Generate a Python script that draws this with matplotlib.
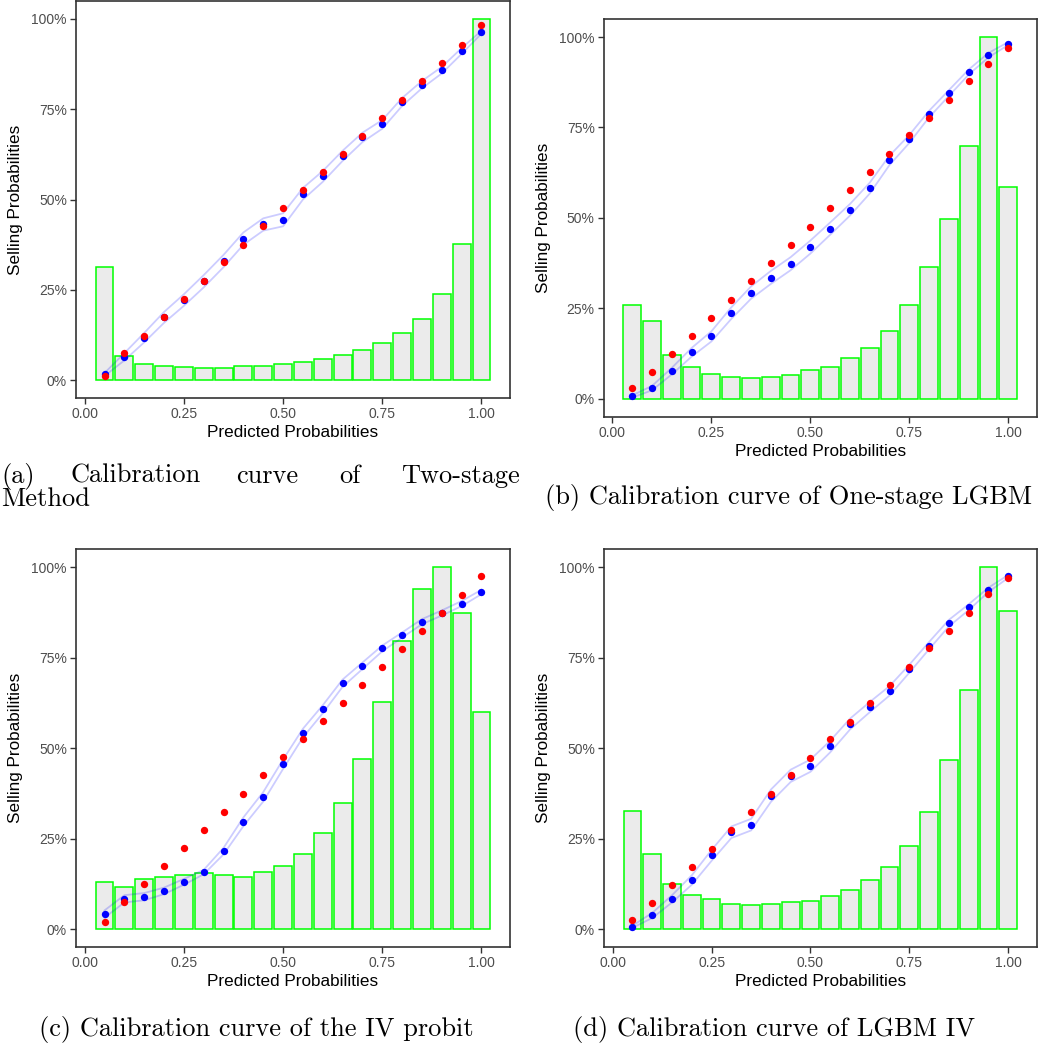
import matplotlib.pyplot as plt
from matplotlib.ticker import FuncFormatter

# bin centres of the predicted probabilities
bins = [0.05, 0.10, 0.15, 0.20, 0.25, 0.30, 0.35, 0.40, 0.45, 0.50,
        0.55, 0.60, 0.65, 0.70, 0.75, 0.80, 0.85, 0.90, 0.95, 1.00]

# (a) two-stage method
a_hist = [31.2, 6.8, 4.6, 3.9, 3.6, 3.3, 3.5, 3.8, 4.0, 4.5,
          5.1, 5.8, 6.9, 8.4, 10.2, 13.0, 16.9, 23.9, 37.7, 100.0]
a_obs = [1.6, 6.5, 11.8, 17.4, 22.2, 27.4, 33.0, 39.2, 43.1, 44.4,
         51.6, 56.4, 62.1, 67.2, 70.8, 77.0, 81.8, 85.8, 91.1, 96.3]
a_pred = [1.3, 7.4, 12.3, 17.4, 22.4, 27.4, 32.6, 37.5, 42.6, 47.6,
          52.6, 57.6, 62.6, 67.6, 72.6, 77.6, 82.7, 87.7, 92.8, 98.3]
a_ci = [0.4, 1.0, 1.3, 1.5, 1.6, 1.7, 1.7, 1.7, 1.7, 1.8,
        1.6, 1.5, 1.4, 1.3, 1.2, 1.1, 1.0, 0.9, 0.8, 0.4]

# (b) one-stage LGBM
b_hist = [25.8, 21.4, 12.1, 8.7, 6.9, 6.0, 5.7, 6.0, 6.5, 7.9,
          8.8, 11.1, 14.0, 18.7, 25.9, 36.5, 49.8, 69.9, 100.0, 58.4]
b_obs = [0.6, 2.9, 7.6, 12.8, 17.2, 23.6, 29.3, 33.5, 37.3, 41.9,
         47.0, 52.2, 58.2, 65.9, 71.8, 78.7, 84.5, 90.3, 95.0, 98.2]
b_pred = [2.9, 7.3, 12.3, 17.4, 22.4, 27.4, 32.5, 37.4, 42.6, 47.6,
          52.6, 57.6, 62.6, 67.7, 72.8, 77.7, 82.7, 87.8, 92.6, 97.0]
b_ci = [0.3, 0.6, 0.9, 1.2, 1.4, 1.6, 1.7, 1.8, 1.8, 1.8,
        1.7, 1.6, 1.5, 1.3, 1.1, 0.9, 0.8, 0.7, 0.6, 0.4]

# (c) IV probit
c_hist = [13.0, 11.6, 13.8, 14.5, 15.0, 15.6, 14.9, 14.5, 15.9, 17.6,
          20.8, 26.5, 35.0, 47.0, 62.9, 79.7, 93.9, 100.0, 87.4, 60.1]
c_obs = [4.2, 8.4, 9.0, 10.6, 13.1, 15.8, 21.6, 29.7, 36.6, 45.6,
         54.2, 60.8, 68.0, 72.8, 77.6, 81.3, 85.0, 87.4, 90.0, 93.2]
c_pred = [2.1, 7.4, 12.5, 17.5, 22.4, 27.4, 32.4, 37.4, 42.5, 47.5,
          52.5, 57.5, 62.5, 67.6, 72.5, 77.5, 82.5, 87.5, 92.4, 97.5]
c_ci = [1.0, 1.0, 1.0, 0.9, 0.8, 0.6, 0.9, 1.2, 1.3, 1.3,
        1.2, 1.1, 1.0, 0.9, 0.8, 0.7, 0.7, 0.7, 0.7, 0.6]

# (d) LGBM IV
d_hist = [32.7, 20.7, 12.6, 9.4, 8.4, 7.1, 6.8, 6.9, 7.4, 7.9,
          9.3, 10.9, 13.5, 17.2, 23.0, 32.4, 46.7, 66.2, 100.0, 88.0]
d_obs = [0.7, 3.8, 8.4, 13.6, 20.4, 26.8, 28.9, 36.9, 42.4, 45.2,
         50.5, 56.7, 61.4, 65.9, 72.0, 78.4, 84.6, 89.0, 93.8, 97.5]
d_pred = [2.6, 7.2, 12.3, 17.3, 22.3, 27.4, 32.4, 37.4, 42.5, 47.4,
          52.5, 57.4, 62.5, 67.6, 72.6, 77.6, 82.5, 87.5, 92.6, 97.0]
d_ci = [0.3, 0.7, 1.0, 1.3, 1.5, 1.6, 1.6, 1.7, 1.7, 1.7,
        1.6, 1.5, 1.4, 1.3, 1.1, 1.0, 0.9, 0.8, 0.6, 0.4]

W, H = 1051, 1053


def px_axes(fig, left, top, right, bottom):
    # axes box given in pixels measured from the top-left corner
    return fig.add_axes([left / W, 1 - bottom / H, (right - left) / W, (bottom - top) / H])


def calib_panel(ax, hist, obs, pred, ci):
    ax.bar(bins, hist, width=0.045, color='#EBEBEB', edgecolor='#00FF00',
           linewidth=1.1, zorder=1)
    lower = [o - c for o, c in zip(obs, ci)]
    upper = [o + c for o, c in zip(obs, ci)]
    ax.plot(bins, lower, color='blue', alpha=0.2, linewidth=1.3, zorder=2)
    ax.plot(bins, upper, color='blue', alpha=0.2, linewidth=1.3, zorder=2)
    ax.scatter(bins, obs, s=28, color='blue', linewidths=0, zorder=3)
    ax.scatter(bins, pred, s=28, color='red', linewidths=0, zorder=4)

    ax.set_xlim(-0.022, 1.072)
    ax.set_ylim(-5, 105)
    ax.set_xticks([0, 0.25, 0.5, 0.75, 1.0])
    ax.set_yticks([0, 25, 50, 75, 100])
    ax.xaxis.set_major_formatter(FuncFormatter(lambda v, p: '%.2f' % v))
    ax.yaxis.set_major_formatter(FuncFormatter(lambda v, p: '%d%%' % v))
    ax.tick_params(direction='out', length=4, width=1.0, color='#333333',
                   labelcolor='#4D4D4D', labelsize=10, pad=2.5)
    for s in ax.spines.values():
        s.set_color('#333333')
        s.set_linewidth(1.2)
    ax.set_xlabel('Predicted Probabilities', fontsize=12.3, labelpad=3)
    ax.set_ylabel('Selling Probabilities', fontsize=12.3, labelpad=6)


plt.rcParams['font.family'] = ['Liberation Sans', 'DejaVu Sans']

fig = plt.figure(figsize=(W / 100, H / 100), dpi=100)

ax_a = px_axes(fig, 76, 0.8, 510, 398.3)
ax_b = px_axes(fig, 603.7, 19, 1036.7, 416.7)
ax_c = px_axes(fig, 76, 549.3, 510, 947.3)
ax_d = px_axes(fig, 604, 549.3, 1036.7, 947.3)

calib_panel(ax_a, a_hist, a_obs, a_pred, a_ci)
calib_panel(ax_b, b_hist, b_obs, b_pred, b_ci)
calib_panel(ax_c, c_hist, c_obs, c_pred, c_ci)
calib_panel(ax_d, d_hist, d_obs, d_pred, d_ci)

# subfigure captions, (a) is justified over two lines
cap = dict(fontfamily='cmr10', fontsize=19, va='baseline', color='black')
fig.text(1 / W, 1 - 482.7 / H, '(a)', ha='left', **cap)
fig.text(71 / W, 1 - 482.7 / H, 'Calibration', ha='left', **cap)
fig.text(236 / W, 1 - 482.7 / H, 'curve', ha='left', **cap)
fig.text(339 / W, 1 - 482.7 / H, 'of', ha='left', **cap)
fig.text(520 / W, 1 - 482.7 / H, 'Two-stage', ha='right', **cap)
fig.text(1 / W, 1 - 506.3 / H, 'Method', ha='left', **cap)
fig.text(788.5 / W, 1 - 504 / H, '(b) Calibration curve of One-stage LGBM', ha='center', **cap)
fig.text(256 / W, 1 - 1036 / H, '(c) Calibration curve of the IV probit', ha='center', **cap)
fig.text(774 / W, 1 - 1036 / H, '(d) Calibration curve of LGBM IV', ha='center', **cap)

fig.savefig('out.png', dpi=100, facecolor='white')
